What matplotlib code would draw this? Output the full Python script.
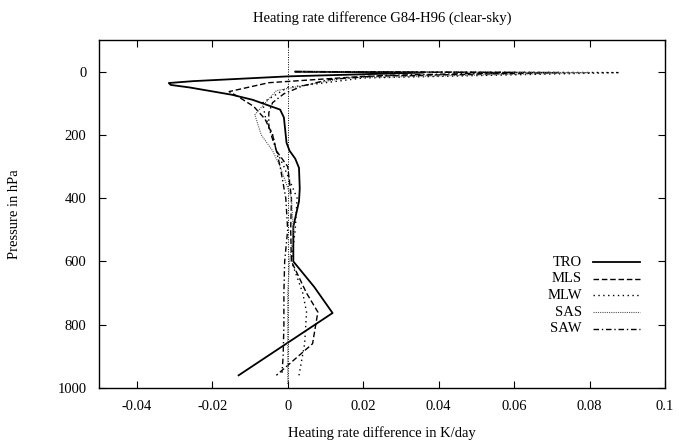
import matplotlib.pyplot as plt
import numpy as np

plt.rcParams['font.family'] = ['Liberation Serif', 'DejaVu Serif']

# perfiles: presion (hPa) y diferencia de tasa de calentamiento (K/day)
p_tro = [0, 3, 15, 30, 36, 42, 50, 73, 89, 120, 145, 225, 250, 275, 304, 370, 410, 490, 600, 680, 763, 960]
x_tro = [0.002, 0.036, 0.0, -0.025, -0.0315, -0.031, -0.026, -0.0148, -0.0093, -0.002, -0.001,
         -0.0003, 0.0005, 0.002, 0.003, 0.0032, 0.003, 0.0015, 0.0015, 0.007, 0.0119, -0.013]

p_mls = [0, 3, 15, 35, 63, 80, 110, 150, 200, 250, 300, 400, 500, 600, 700, 760, 860, 960]
x_mls = [0.002, 0.072, 0.02, -0.005, -0.0155, -0.013, -0.009, -0.006, -0.004, -0.003, 0.0,
         0.001, 0.0008, 0.001, 0.005, 0.008, 0.0066, -0.003]

p_mlw = [0, 3, 20, 50, 98, 140, 200, 250, 300, 400, 500, 600, 700, 760, 860, 960]
x_mlw = [0.002, 0.088, 0.02, 0.0, -0.0066, -0.006, -0.004, -0.003, -0.001, 0.0025, 0.002,
         0.001, 0.004, 0.005, 0.0045, 0.003]

p_sas = [0, 3, 20, 60, 136, 200, 250, 300, 400, 500, 600, 700, 800, 900, 990]
x_sas = [0.002, 0.08, 0.015, -0.003, -0.0087, -0.007, -0.004, -0.002, 0.001, 0.0015, 0.0005,
         0.0, 0.0, 0.0, 0.0]

p_saw = [0, 3, 12, 25, 45, 70, 98, 130, 177, 250, 300, 400, 500, 600, 700, 800, 900, 952]
x_saw = [0.002, 0.06, 0.025, 0.011, 0.004, -0.001, -0.004, -0.005, -0.005, -0.003, -0.002,
         -0.0005, 0.0, -0.0008, -0.001, -0.001, -0.0012, -0.0015]

nombres = ["TRO", "MLS", "MLW", "SAS", "SAW"]
xticks = [-0.04, -0.02, 0, 0.02, 0.04, 0.06, 0.08, 0.1]
xlabels = ["-0.04", "-0.02", "0", "0.02", "0.04", "0.06", "0.08", "0.1"]
yticks = [0, 200, 400, 600, 800, 1000]

fig = plt.figure(figsize=(6.79, 4.43), dpi=100)
ax = fig.add_axes([0.1458, 0.1242, 0.8336, 0.7855])

estilos = [
    dict(color='black', lw=1.3, ls='-'),
    dict(color='black', lw=1.0, ls=(0, (4, 2))),
    dict(color='black', lw=1.0, ls=(0, (1, 2.5))),
    dict(color='#555555', lw=0.8, ls=(0, (1, 1))),
    dict(color='black', lw=1.0, ls=(0, (4, 2, 1, 2))),
]
datos = [(x_tro, p_tro), (x_mls, p_mls), (x_mlw, p_mlw), (x_sas, p_sas), (x_saw, p_saw)]

ax.axvline(0, color='black', lw=0.7, ls=(0, (1, 1.5)))
for (x, p), est in zip(datos, estilos):
    ax.plot(x, p, **est)

# leyenda estilo gnuplot
for i, (nom, est) in enumerate(zip(nombres, estilos)):
    yy = 0.362 - i * 0.048
    ax.text(0.853, yy, nom, transform=ax.transAxes, ha='right', va='center', fontsize=10.5)
    ax.plot([0.873, 0.956], [yy, yy], transform=ax.transAxes, **est)

ax.set_xlim(-0.05, 0.1)
ax.set_ylim(1000, -100)
ax.set_xticks(xticks)
ax.set_xticklabels(xlabels)
ax.set_yticks(yticks)
ax.tick_params(direction='in', top=True, right=True, labelsize=10.5, length=5, width=0.8, pad=9)
for s in ax.spines.values():
    s.set_linewidth(1.0)

ax.set_title("Heating rate difference G84-H96 (clear-sky)", fontsize=10.5, pad=13)
ax.set_xlabel("Heating rate difference in K/day", fontsize=10.5, labelpad=9)
ax.set_ylabel("Pressure in hPa", fontsize=10.5, labelpad=26)

plt.savefig("out.png", dpi=100)
